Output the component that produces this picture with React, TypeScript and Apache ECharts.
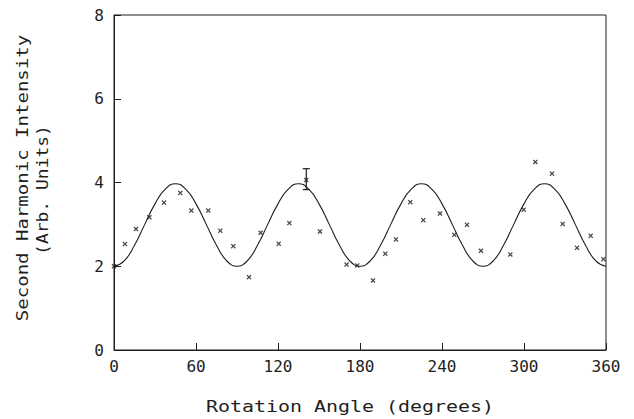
import React, { useEffect, useRef } from "react";
import * as echarts from "echarts";

const xTicks = [0, 60, 120, 180, 240, 300, 360];
const yTicks = [0, 2, 4, 6, 8];

const measuredAngles = [
  0, 8.0, 16.1, 25.9, 36.6, 48.5, 56.6, 69.0, 77.8, 87.3, 98.8, 107.3, 120.5,
  128.3, 140.7, 150.7, 170.2, 178.0, 189.5, 198.5, 206.3, 216.8, 226.3, 238.5,
  249.0, 258.3, 268.5, 290.0, 299.8, 308.3, 320.5, 328.3, 338.8, 348.8, 358.1,
];
const measuredValues = [
  2.0, 2.53, 2.89, 3.17, 3.52, 3.75, 3.33, 3.33, 2.85, 2.48, 1.74, 2.8, 2.54,
  3.03, 4.06, 2.83, 2.04, 2.02, 1.66, 2.3, 2.64, 3.53, 3.1, 3.26, 2.75, 2.99,
  2.37, 2.28, 3.35, 4.49, 4.21, 3.01, 2.44, 2.73, 2.17,
];

const errorBarAngle = [140.7];
const errorBarLow = [3.83];
const errorBarHigh = [4.33];

const curveAngles = [
  0, 7.5, 15, 22.5, 30, 37.5, 45, 52.5, 60, 67.5, 75, 82.5, 90, 97.5, 105,
  112.5, 120, 127.5, 135, 142.5, 150, 157.5, 165, 172.5, 180, 187.5, 195, 202.5,
  210, 217.5, 225, 232.5, 240, 247.5, 255, 262.5, 270, 277.5, 285, 292.5, 300,
  307.5, 315, 322.5, 330, 337.5, 345, 352.5, 360,
];
const curveValues = [
  2.0, 2.13, 2.5, 3.0, 3.49, 3.84, 3.97, 3.84, 3.49, 3.0, 2.5, 2.13, 2.0, 2.13,
  2.5, 3.0, 3.49, 3.84, 3.97, 3.84, 3.49, 3.0, 2.5, 2.13, 2.0, 2.13, 2.5, 3.0,
  3.49, 3.84, 3.97, 3.84, 3.49, 3.0, 2.5, 2.13, 2.0, 2.13, 2.5, 3.0, 3.49, 3.84,
  3.97, 3.84, 3.49, 3.0, 2.5, 2.13, 2.0,
];

const xTitle = "Rotation Angle (degrees)";
const yTitle1 = "Second Harmonic Intensity";
const yTitle2 = "(Arb. Units)";

const INK = "#1e1e1e";
const FONT = "DejaVu Sans Mono";
const X_SYMBOL =
  "path://M0,1.8 L1.8,0 L5,3.2 L8.2,0 L10,1.8 L6.8,5 L10,8.2 L8.2,10 L5,6.8 L1.8,10 L0,8.2 L3.2,5 Z";

export default function App() {
  const ref = useRef<HTMLDivElement>(null);
  useEffect(() => {
    if (!ref.current) return;
    const chart = echarts.init(ref.current, null, { renderer: "svg" });
    const points = measuredAngles.map((a, i) => [a, measuredValues[i]]);
    const curve = curveAngles.map((a, i) => [a, curveValues[i]]);
    const errs = errorBarAngle.map((a, i) => [a, errorBarLow[i], errorBarHigh[i]]);
    chart.setOption({
      animation: false,
      backgroundColor: "#ffffff",
      grid: {
        left: 114,
        right: 28,
        top: 15,
        bottom: 69,
        show: true,
        borderColor: INK,
        borderWidth: 1,
        backgroundColor: "transparent",
      },
      xAxis: {
        type: "value",
        min: 0,
        max: 360,
        interval: 60,
        axisLine: { show: true, onZero: false, lineStyle: { color: INK, width: 1 } },
        axisTick: { show: true, inside: true, length: 7, lineStyle: { color: INK } },
        splitLine: { show: false },
        axisLabel: {
          color: INK,
          fontFamily: FONT,
          fontSize: 16,
          margin: 8,
          formatter: (v: number) => (xTicks.includes(v) ? String(v) : ""),
        },
      },
      yAxis: {
        type: "value",
        min: 0,
        max: 8,
        interval: 2,
        axisLine: { show: true, onZero: false, lineStyle: { color: INK, width: 1 } },
        axisTick: { show: true, inside: true, length: 7, lineStyle: { color: INK } },
        splitLine: { show: false },
        axisLabel: {
          color: INK,
          fontFamily: FONT,
          fontSize: 16,
          margin: 10,
          formatter: (v: number) => (yTicks.includes(v) ? String(v) : ""),
        },
      },
      graphic: [
        {
          type: "text",
          x: 350,
          y: 407,
          scaleX: 1.33,
          style: {
            text: xTitle,
            fill: INK,
            font: `15px '${FONT}'`,
            textAlign: "center",
            textVerticalAlign: "middle",
          },
        },
        {
          type: "text",
          x: 23,
          y: 178,
          rotation: Math.PI / 2,
          scaleX: 1.27,
          style: {
            text: yTitle1,
            fill: INK,
            font: `15px '${FONT}'`,
            textAlign: "center",
            textVerticalAlign: "middle",
          },
        },
        {
          type: "text",
          x: 43,
          y: 190,
          rotation: Math.PI / 2,
          scaleX: 1.2,
          style: {
            text: yTitle2,
            fill: INK,
            font: `15px '${FONT}'`,
            textAlign: "center",
            textVerticalAlign: "middle",
          },
        },
      ],
      series: [
        {
          type: "line",
          data: curve,
          smooth: true,
          showSymbol: false,
          lineStyle: { color: INK, width: 1.1 },
          z: 2,
        },
        {
          type: "scatter",
          data: points,
          symbol: X_SYMBOL,
          symbolSize: 5,
          itemStyle: { color: INK },
          z: 3,
        },
        {
          type: "custom",
          data: errs,
          z: 4,
          renderItem: (params: any, api: any) => {
            const x = api.value(0);
            const lo = api.coord([x, api.value(1)]);
            const hi = api.coord([x, api.value(2)]);
            const s = { stroke: INK, lineWidth: 1.2 };
            return {
              type: "group",
              children: [
                { type: "line", shape: { x1: lo[0], y1: lo[1], x2: hi[0], y2: hi[1] }, style: s },
                { type: "line", shape: { x1: lo[0] - 3.5, y1: lo[1], x2: lo[0] + 3.5, y2: lo[1] }, style: s },
                { type: "line", shape: { x1: hi[0] - 3.5, y1: hi[1], x2: hi[0] + 3.5, y2: hi[1] }, style: s },
              ],
            };
          },
        },
      ],
    });
    return () => chart.dispose();
  }, []);
  return (
    <div
      ref={ref}
      style={{ position: "absolute", left: 0, top: 0, width: 634, height: 419 }}
    />
  );
}
